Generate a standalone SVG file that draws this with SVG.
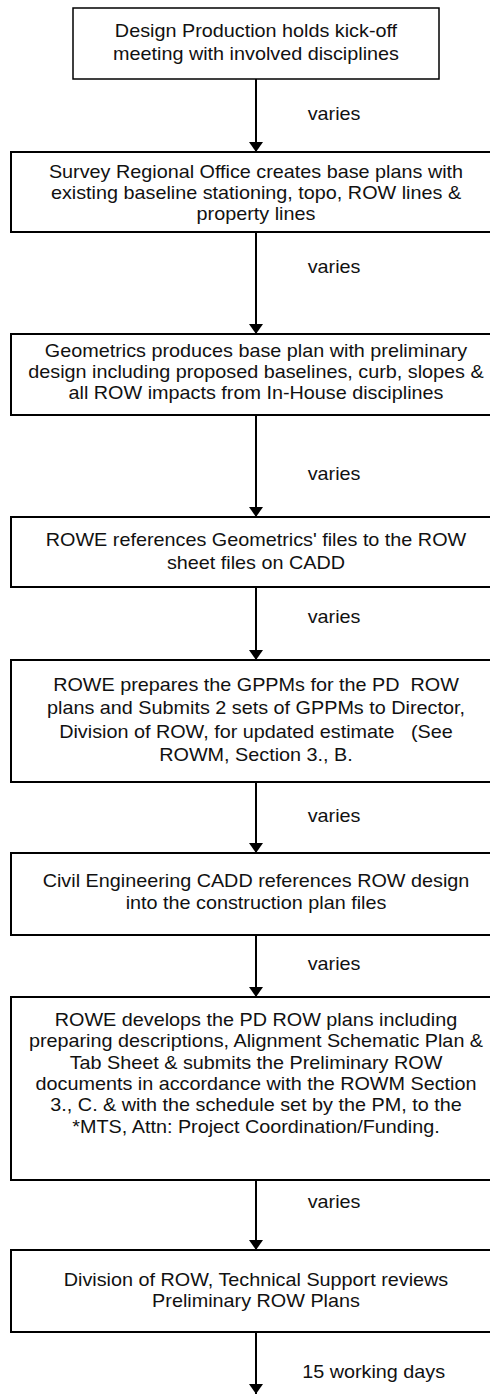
<svg xmlns="http://www.w3.org/2000/svg" width="490" height="1395" viewBox="0 0 490 1395">
<style>
.box{fill:#fff;stroke:#000;stroke-width:2}
.t{font-family:"Liberation Sans",Arial,sans-serif;font-size:18px;fill:#111;text-anchor:middle;white-space:pre}
.l{font-family:"Liberation Sans",Arial,sans-serif;font-size:18px;fill:#111;text-anchor:start}
.c{stroke:#000;stroke-width:2;fill:none;marker-end:url(#ah)}
</style>
<defs>
<marker id="ah" markerUnits="userSpaceOnUse" markerWidth="10" markerHeight="14" refX="10" refY="7" orient="auto" viewBox="0 0 10 14">
<path d="M0,0 L10,7 L0,14 Z" fill="#000"/>
</marker>
</defs>
<rect width="490" height="1395" fill="#fff"/>
<g id="connectors">
<line class="c" x1="256" y1="79" x2="256" y2="152"/>
<line class="c" x1="256" y1="232" x2="256" y2="334"/>
<line class="c" x1="256" y1="415" x2="256" y2="517"/>
<line class="c" x1="256" y1="587" x2="256" y2="660"/>
<line class="c" x1="256" y1="782" x2="256" y2="853"/>
<line class="c" x1="256" y1="935" x2="256" y2="997"/>
<line class="c" x1="256" y1="1180" x2="256" y2="1250"/>
<line class="c" x1="256" y1="1332" x2="256" y2="1394"/>
<g transform="matrix(1.1 0 0 1 -25.6 0)">
<text class="l" x="303" y="120">varies</text>
<text class="l" x="303" y="273">varies</text>
<text class="l" x="303" y="480">varies</text>
<text class="l" x="303" y="623">varies</text>
<text class="l" x="303" y="822">varies</text>
<text class="l" x="303" y="970">varies</text>
<text class="l" x="303" y="1208">varies</text>
<text class="l" x="298" y="1378">15 working days</text>
</g>
</g>
<g id="n1">
<rect class="box" x="73" y="8" width="366" height="71" style="stroke-width:1.5"/>
<g transform="matrix(1.1 0 0 1 -25.6 0)">
<text class="t" x="256" y="37">Design Production holds kick-off</text>
<text class="t" x="256" y="60">meeting with involved disciplines</text>
</g>
</g>
<g id="n2">
<rect class="box" x="11" y="152" width="490" height="80"/>
<g transform="matrix(1.1 0 0 1 -25.6 0)">
<text class="t" x="256" y="178">Survey Regional Office creates base plans with</text>
<text class="t" x="256" y="199">existing baseline stationing, topo, ROW lines &amp;</text>
<text class="t" x="256" y="220">property lines</text>
</g>
</g>
<g id="n3">
<rect class="box" x="11" y="334" width="490" height="81"/>
<g transform="matrix(1.1 0 0 1 -25.6 0)">
<text class="t" x="256" y="357">Geometrics produces base plan with preliminary</text>
<text class="t" x="256" y="378">design including proposed baselines, curb, slopes &amp;</text>
<text class="t" x="256" y="399">all ROW impacts from In-House disciplines</text>
</g>
</g>
<g id="n4">
<rect class="box" x="11" y="517" width="490" height="70"/>
<g transform="matrix(1.1 0 0 1 -25.6 0)">
<text class="t" x="256" y="546">ROWE references Geometrics' files to the ROW</text>
<text class="t" x="256" y="569">sheet files on CADD</text>
</g>
</g>
<g id="n5">
<rect class="box" x="11" y="660" width="490" height="122"/>
<g transform="matrix(1.1 0 0 1 -25.6 0)">
<text class="t" x="256" y="691">ROWE prepares the GPPMs for the PD  ROW</text>
<text class="t" x="256" y="714">plans and Submits 2 sets of GPPMs to Director,</text>
<text class="t" x="256" y="738">Division of ROW, for updated estimate   (See</text>
<text class="t" x="256" y="761">ROWM, Section 3., B.</text>
</g>
</g>
<g id="n6">
<rect class="box" x="11" y="853" width="490" height="82"/>
<g transform="matrix(1.1 0 0 1 -25.6 0)">
<text class="t" x="256" y="887">Civil Engineering CADD references ROW design</text>
<text class="t" x="256" y="909">into the construction plan files</text>
</g>
</g>
<g id="n7">
<rect class="box" x="11" y="997" width="490" height="183"/>
<g transform="matrix(1.1 0 0 1 -25.6 0)">
<text class="t" x="256" y="1026">ROWE develops the PD ROW plans including</text>
<text class="t" x="256" y="1047">preparing descriptions, Alignment Schematic Plan &amp;</text>
<text class="t" x="256" y="1069">Tab Sheet &amp; submits the Preliminary ROW</text>
<text class="t" x="256" y="1090">documents in accordance with the ROWM Section</text>
<text class="t" x="256" y="1111">3., C. &amp; with the schedule set by the PM, to the</text>
<text class="t" x="256" y="1133">*MTS, Attn: Project Coordination/Funding.</text>
</g>
</g>
<g id="n8">
<rect class="box" x="11" y="1250" width="490" height="82"/>
<g transform="matrix(1.1 0 0 1 -25.6 0)">
<text class="t" x="256" y="1286">Division of ROW, Technical Support reviews</text>
<text class="t" x="256" y="1307">Preliminary ROW Plans</text>
</g>
</g>
</svg>
